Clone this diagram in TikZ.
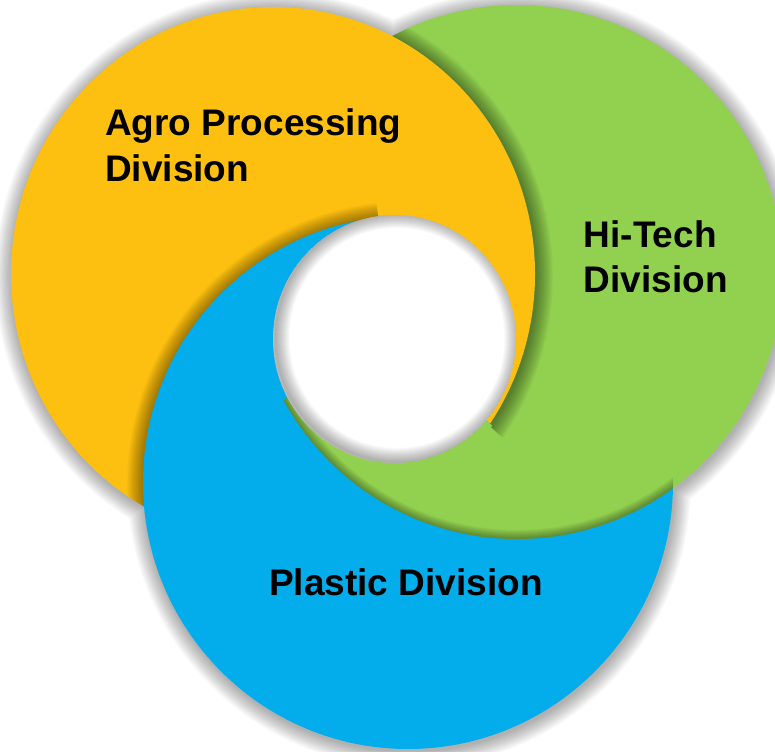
\documentclass[tikz,border=0pt]{standalone}
\usepackage{fontspec}
\setmainfont{Liberation Sans}
\definecolor{cy}{RGB}{253,192,16}
\definecolor{cg}{RGB}{146,208,80}
\definecolor{cb}{RGB}{3,173,236}
\tikzset{
  outshadow/.style={fill=black, opacity=0.022},
  castfill/.style={fill=black, opacity=0.03, even odd rule},
  innerband/.style={draw=black, opacity=0.04},
  holeband/.style={draw=black, opacity=0.022},
  lbl/.style={font=\fontsize{37}{44}\selectfont\bfseries, inner sep=0pt, text=black, anchor=base west},
}
% the three discs
\newcommand\shapeY[1]{\fill[#1] (273,274) ellipse [x radius=262, y radius=267];}
\newcommand\shapeG[1]{\fill[#1] (517,272) ellipse [x radius=266, y radius=267];}
\newcommand\shapeB[1]{\fill[#1] (408,482.5) ellipse [x radius=265, y radius=266.5];}
\newcommand\clipY{\clip (273,274) ellipse [x radius=262, y radius=267];}
\newcommand\clipYexp{\clip (273,274) ellipse [x radius=263.5, y radius=268.5];}
\newcommand\clipYexpp{\clip (273,274) ellipse [x radius=265, y radius=270];}
\newcommand\clipG{\clip (517,272) ellipse [x radius=266, y radius=267];}
\newcommand\clipB{\clip (408,482.5) ellipse [x radius=265, y radius=266.5];}
% shadow band cast just outside a disc edge
\newcommand\ringshadow[4]{\foreach \k in {1,...,14}{\fill[castfill] ({#1+1},{#2+2}) ellipse [x radius={#3+1.2*\k}, y radius={#4+1.2*\k}] (#1,#2) ellipse [x radius={#3-1}, y radius={#4-1}];}}
\newcommand\castY{\ringshadow{273}{274}{262}{267}}
\newcommand\castB{\ringshadow{408}{482.5}{265}{266.5}}
\newcommand\innerstrokes{\foreach \k in {1,...,9}{\draw[innerband, line width={2*\k}] (517,272) ellipse [x radius=266, y radius=267];}}
\newcommand\sectorclip[5]{\clip (394.5,339)
  -- ([shift={(394.5,339)}]#1:1100)
  -- ([shift={(394.5,339)}]#2:1100)
  -- ([shift={(394.5,339)}]#3:1100)
  -- ([shift={(394.5,339)}]#4:1100)
  -- ([shift={(394.5,339)}]#5:1100) -- cycle;}
\newcommand\yellowsector{\sectorclip{-98.4}{-63.2}{-28}{7.2}{42.4}}
\newcommand\greensector{\sectorclip{41.6}{69.05}{96.5}{123.95}{151.4}}
\newcommand\greenbluesector{\sectorclip{41.6}{96.8}{152}{207.2}{262.4}}
\begin{document}
\begin{tikzpicture}[x=1pt,y=-1pt]
\useasboundingbox (0,0) rectangle (775,751);
\fill[white] (0,0) rectangle (775,751);
\begin{scope}
  \clip (0,0) rectangle (775,751);
  % soft outer shadow of the whole group
  \foreach \k in {1,...,14}{\fill[outshadow]
     (274,276) ellipse [x radius={262+1.2*\k}, y radius={267+1.2*\k}]
     (518,274) ellipse [x radius={266+1.2*\k}, y radius={267+1.2*\k}]
     (409,484.5) ellipse [x radius={265+1.2*\k}, y radius={266.5+1.2*\k}];}
  % base layer: blue, green, yellow
  \shapeB{cb}
  \shapeG{cg}
  \begin{scope}\clipB \clipG \innerstrokes\end{scope}
  \begin{scope}
    \yellowsector
    \clip (517,272) ellipse [x radius=266, y radius=267] (408,482.5) ellipse [x radius=265, y radius=266.5];
    \castY
  \end{scope}
  \shapeY{cy}
  % blue over yellow (left and bottom)
  \begin{scope}\greenbluesector \clipY \castB\end{scope}
  \begin{scope}\greenbluesector \clipYexp \shapeB{cb}\end{scope}
  % green over yellow and blue (below the hole)
  \begin{scope}\greensector \clipYexpp \shapeG{cg}\end{scope}
  \begin{scope}\greensector \clipYexpp \clipB \clipG \innerstrokes\end{scope}
  % central hole
  \fill[white] (394.5,339) ellipse [x radius=121.5, y radius=124];
  \begin{scope}
    \clip (394.5,339) ellipse [x radius=121.5, y radius=124];
    \foreach \k in {1,...,14}{\draw[holeband, line width={2*\k}] (397,338) ellipse [x radius=121.5, y radius=124];}
  \end{scope}
\end{scope}
\node[lbl] (agro1) at (105,136) {Agro Processing};
\node[lbl] (agro2) at (105,181.5) {Division};
\node[lbl] (hitech1) at (583.5,247.5) {Hi-Tech};
\node[lbl] (hitech2) at (583.5,292) {Division};
\node[lbl] (plastic) at (269,595.5) {Plastic Division};
\end{tikzpicture}
\end{document}
